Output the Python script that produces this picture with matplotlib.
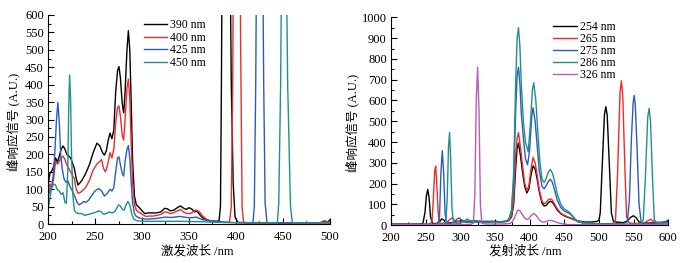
import numpy as np
import matplotlib
matplotlib.use('Agg')
import matplotlib.pyplot as plt
from matplotlib.ticker import MultipleLocator

plt.rcParams['font.family'] = ['Liberation Serif', 'Noto Sans CJK SC']

# ---------------- excitation spectra (left) ----------------
ex390_x = [200, 202, 204, 206, 208, 210, 212, 214, 216, 218, 220, 222, 224, 226, 228, 230, 232, 236, 240, 244, 248, 252, 255, 258, 260, 262, 264, 266, 268, 270, 272, 274, 275.5, 277, 279, 280.5, 282, 284, 285.5, 287, 288.5, 290, 292, 294, 296, 298, 300, 303, 306, 310, 315, 320, 324, 327, 330, 334, 338, 341, 344, 347, 350, 353, 356, 358, 360, 363, 366, 370, 375, 380, 382, 383.5, 384.5, 385.5, 389, 393, 395, 397, 399, 402, 420, 450, 480, 490, 494, 497, 500]
ex390_y = [110, 145, 152, 165, 190, 178, 195, 215, 224, 215, 200, 195, 190, 175, 160, 130, 112, 125, 145, 170, 205, 232, 225, 205, 198, 210, 240, 261, 245, 270, 380, 440, 452, 420, 345, 319, 380, 500, 555, 500, 350, 180, 80, 55, 50, 45, 38, 30, 32, 32, 32, 35, 45, 44, 38, 40, 48, 52, 46, 42, 47, 43, 35, 38, 32, 22, 15, 10, 8, 8, 10, 50, 400, 900, 2500, 1000, 400, 120, 20, 5, 3, 3, 3, 4, 8, 5, 12]

ex400_x = [200, 202, 204, 206, 208, 210, 212, 214, 216, 218, 220, 222, 224, 226, 228, 230, 232, 235, 240, 244, 248, 252, 255, 257, 259, 261, 263, 266, 268, 270, 272, 274, 275.5, 277, 279, 280.5, 282, 284, 285.5, 287, 288.5, 290, 292, 294, 296, 298, 300, 304, 308, 312, 316, 320, 324, 327, 330, 334, 338, 341, 344, 347, 350, 353, 356, 358, 361, 364, 368, 372, 378, 385, 390, 393, 395, 396.5, 397.5, 401, 404, 405, 406.5, 408, 420, 450, 480, 490, 494, 497, 500]
ex400_y = [85, 115, 105, 130, 180, 172, 180, 190, 195, 185, 170, 160, 150, 140, 130, 100, 88, 92, 105, 125, 155, 172, 180, 185, 160, 150, 165, 205, 190, 215, 290, 335, 339, 310, 255, 241, 300, 390, 416, 360, 230, 120, 55, 40, 35, 32, 28, 22, 23, 23, 25, 28, 35, 34, 30, 33, 38, 42, 35, 31, 30, 32, 38, 40, 35, 25, 15, 10, 7, 5, 5, 5, 50, 400, 900, 2500, 900, 500, 50, 5, 3, 3, 3, 4, 10, 6, 5]

ex425_x = [200, 202, 204, 206, 207.5, 209, 210.5, 212, 213.5, 215, 217, 219, 221, 223, 225, 228, 231, 233, 236, 238, 240, 243, 246, 250, 254, 257, 260, 263, 266, 268, 270, 272, 274, 275.5, 277, 279, 280.5, 282, 284, 285.5, 287, 288.5, 290, 292, 294, 297, 300, 305, 310, 315, 320, 325, 330, 335, 340, 345, 350, 355, 358, 362, 366, 372, 378, 382, 386, 392, 400, 410, 418, 419.5, 421, 422, 425.2, 428, 429.5, 431, 433, 450, 480, 500]
ex425_y = [80, 95, 110, 150, 220, 300, 349, 290, 200, 160, 130, 120, 125, 110, 100, 82, 62, 55, 60, 65, 62, 68, 80, 95, 102, 95, 80, 88, 100, 95, 105, 150, 190, 193, 170, 145, 138, 180, 215, 225, 190, 120, 60, 30, 22, 18, 16, 14, 15, 16, 18, 20, 19, 20, 22, 20, 18, 19, 20, 15, 12, 10, 9, 8, 6, 5, 4, 3, 3, 50, 400, 800, 2500, 900, 400, 60, 3, 3, 3, 3]

ex450_x = [200, 202, 204, 206, 208, 210, 212, 214, 216, 218, 219.5, 221, 222, 223, 224, 225, 226.5, 228, 230, 233, 236, 239, 242, 246, 250, 254, 257, 259, 262, 265, 268, 271, 273, 275, 277, 279, 281, 283, 285, 287, 289, 291, 294, 300, 320, 340, 360, 380, 400, 420, 440, 444, 445.5, 447.5, 449, 451, 453, 455, 458, 460, 480, 500]
ex450_y = [40, 75, 105, 115, 112, 98, 95, 85, 90, 62, 60, 150, 330, 428, 360, 200, 80, 40, 32, 30, 30, 25, 27, 30, 33, 38, 35, 28, 30, 35, 32, 36, 45, 55, 52, 42, 40, 55, 65, 55, 30, 15, 10, 8, 8, 8, 7, 5, 4, 3, 3, 3, 60, 400, 900, 2500, 900, 400, 50, 3, 3, 3]

ex_labels = ['390 nm', '400 nm', '425 nm', '450 nm']

# ---------------- emission spectra (right) ----------------
em254_x = [200, 220, 240, 246, 249, 251, 253, 255, 257, 260, 266, 270, 273, 276, 280, 290, 300, 310, 320, 330, 340, 350, 360, 366, 370, 374, 377, 380, 382, 384, 387, 390, 393, 396, 399, 402, 405, 408, 411, 414, 418, 421, 424, 427, 430, 433, 436, 440, 445, 450, 455, 460, 465, 470, 480, 490, 497, 500, 502, 505, 508, 510, 512, 515, 518, 521, 525, 535, 541, 546, 550, 554, 558, 565, 575, 585, 595, 600]
em254_y = [5, 5, 5, 8, 60, 140, 172, 130, 40, 8, 8, 15, 30, 25, 10, 12, 20, 18, 20, 18, 18, 18, 16, 18, 22, 40, 100, 280, 370, 395, 330, 250, 185, 155, 175, 240, 285, 270, 220, 160, 105, 92, 95, 108, 115, 110, 95, 72, 55, 45, 38, 32, 25, 20, 15, 15, 18, 22, 60, 300, 530, 570, 530, 300, 60, 18, 15, 12, 20, 38, 45, 35, 15, 10, 10, 12, 15, 20]

em265_x = [200, 220, 240, 255, 259, 261, 263, 264.5, 266, 268, 270, 275, 280, 284, 288, 292, 300, 310, 320, 330, 340, 350, 360, 366, 370, 374, 377, 380, 382, 384, 387, 390, 393, 396, 399, 402, 405, 408, 411, 414, 418, 421, 424, 427, 430, 433, 436, 440, 445, 450, 455, 460, 465, 470, 480, 490, 500, 510, 520, 524, 527, 530.5, 532.5, 534.5, 537.5, 540, 544, 555, 565, 570, 575, 580, 590, 600]
em265_y = [4, 4, 4, 4, 15, 120, 260, 284, 200, 60, 10, 8, 10, 25, 35, 22, 15, 14, 14, 13, 14, 14, 15, 17, 22, 45, 120, 340, 420, 445, 370, 280, 200, 165, 190, 270, 325, 300, 240, 170, 115, 102, 110, 122, 127, 120, 102, 78, 58, 47, 40, 33, 25, 18, 12, 8, 6, 6, 8, 25, 250, 640, 695, 620, 280, 40, 10, 8, 10, 20, 28, 15, 12, 12]

em275_x = [200, 220, 240, 260, 268, 270, 272, 274, 276, 278, 280, 285, 290, 295, 298, 302, 310, 320, 330, 340, 350, 360, 366, 370, 374, 377, 380, 382, 384, 386, 388, 391, 394, 397, 400, 403, 405, 408, 411, 414, 418, 421, 424, 427, 430, 433, 436, 440, 445, 450, 455, 458, 462, 466, 470, 480, 490, 500, 520, 535, 541, 544, 547, 549.5, 551, 552.5, 555, 558, 561, 565, 580, 590, 596, 600]
em275_y = [4, 4, 4, 4, 6, 40, 250, 358, 250, 60, 10, 8, 12, 28, 35, 25, 15, 15, 14, 14, 15, 17, 20, 28, 70, 220, 560, 720, 760, 680, 540, 420, 320, 290, 360, 520, 565, 500, 380, 260, 185, 175, 190, 210, 221, 205, 170, 120, 85, 68, 60, 55, 42, 25, 15, 10, 8, 6, 6, 8, 15, 120, 420, 590, 624, 580, 380, 100, 15, 8, 8, 10, 15, 25]

em286_x = [200, 220, 240, 260, 275, 279, 281, 283, 284.5, 286, 288, 290, 295, 300, 306, 310, 314, 320, 330, 340, 350, 360, 366, 370, 374, 377, 380, 382, 384, 386, 388, 391, 394, 398, 401, 404, 406, 409, 412, 415, 418, 421, 424, 427, 430, 433, 436, 440, 445, 450, 455, 458, 462, 466, 470, 480, 490, 500, 520, 540, 560, 564, 567, 570.5, 572.5, 574.5, 577.5, 580, 585, 600]
em286_y = [4, 4, 4, 4, 4, 10, 120, 380, 446, 330, 80, 12, 8, 10, 20, 30, 20, 15, 14, 14, 14, 16, 18, 25, 70, 250, 700, 900, 950, 860, 680, 500, 400, 353, 480, 650, 685, 600, 440, 300, 220, 205, 225, 255, 268, 250, 210, 150, 100, 78, 68, 60, 45, 28, 18, 10, 6, 5, 5, 5, 6, 25, 220, 520, 562, 500, 220, 25, 8, 10]

em326_x = [200, 250, 300, 315, 319, 321, 323, 325, 327, 329, 331, 335, 350, 365, 372, 376, 380, 383, 386, 390, 394, 398, 402, 406, 410, 414, 418, 422, 427, 430, 434, 440, 446, 455, 470, 500, 550, 600]
em326_y = [2, 2, 3, 4, 10, 150, 600, 760, 550, 100, 10, 6, 5, 6, 8, 20, 50, 72, 70, 48, 30, 28, 45, 57, 45, 25, 15, 15, 22, 23, 20, 12, 7, 3, 2, 2, 2, 2]

em_labels = ['254 nm', '265 nm', '275 nm', '286 nm', '326 nm']

colors = ['#000000', '#ee2a2a', '#2b5bbf', '#1f9089', '#b95ab9']

fig = plt.figure(figsize=(6.86, 2.63), dpi=100)
ax1 = fig.add_axes([0.070, 0.148, 0.411, 0.795])
ax2 = fig.add_axes([0.570, 0.144, 0.404, 0.790])

ex_data = [(ex390_x, ex390_y), (ex400_x, ex400_y), (ex425_x, ex425_y), (ex450_x, ex450_y)]
for (x, y), c, lab in zip(ex_data, colors, ex_labels):
    ax1.plot(x, y, color=c, lw=1.0, label=lab)

em_data = [(em254_x, em254_y), (em265_x, em265_y), (em275_x, em275_y), (em286_x, em286_y), (em326_x, em326_y)]
for (x, y), c, lab in zip(em_data, colors, em_labels):
    ax2.plot(x, y, color=c, lw=1.0, label=lab)

ax1.set_xlim(200, 500)
ax1.set_ylim(0, 600)
ax1.xaxis.set_major_locator(MultipleLocator(50))
ax1.xaxis.set_minor_locator(MultipleLocator(25))
ax1.yaxis.set_major_locator(MultipleLocator(50))
ax1.yaxis.set_minor_locator(MultipleLocator(25))

ax2.set_xlim(200, 600)
ax2.set_ylim(0, 1000)
ax2.xaxis.set_major_locator(MultipleLocator(50))
ax2.xaxis.set_minor_locator(MultipleLocator(25))
ax2.yaxis.set_major_locator(MultipleLocator(100))
ax2.yaxis.set_minor_locator(MultipleLocator(50))

for ax in (ax1, ax2):
    ax.spines['top'].set_visible(False)
    ax.spines['right'].set_visible(False)
    ax.tick_params(which='major', direction='in', length=4, width=0.8, labelsize=9, pad=3)
    ax.tick_params(which='minor', direction='in', length=2.5, width=0.8)
    ax.tick_params(axis='x', which='major', pad=5)
    ax.set_ylabel('峰响应信号 (A.U.)', fontsize=9)

ax1.set_xlabel('激发波长 /nm', fontsize=9)
ax2.set_xlabel('发射波长 /nm', fontsize=9)
ax1.yaxis.set_label_coords(-0.10, 0.49)
ax2.yaxis.set_label_coords(-0.114, 0.49)
ax1.xaxis.set_label_coords(0.53, -0.10)
ax2.xaxis.set_label_coords(0.484, -0.096)

ax1.legend(loc='upper left', bbox_to_anchor=(0.31, 1.02), frameon=False, fontsize=8.5,
           handlelength=1.95, handletextpad=0.3, labelspacing=0.05, borderpad=0.2)
ax2.legend(loc='upper left', bbox_to_anchor=(0.555, 1.02), frameon=False, fontsize=8.5,
           handlelength=2.0, handletextpad=0.3, labelspacing=0.0, borderpad=0.2)

plt.savefig('out.png', dpi=100)
